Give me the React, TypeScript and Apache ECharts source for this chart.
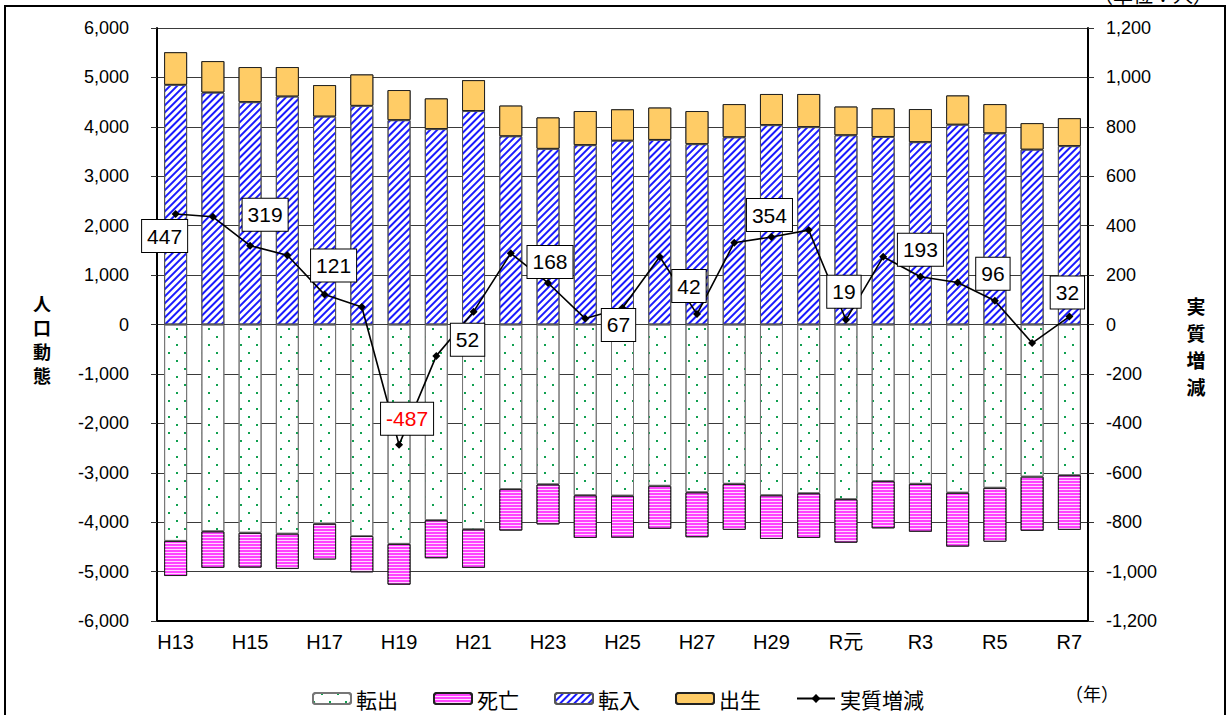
import React, { useEffect, useRef } from "react";
import * as echarts from "echarts";

const categories = [
  "H13", "H14", "H15", "H16", "H17", "H18", "H19", "H20", "H21", "H22",
  "H23", "H24", "H25", "H26", "H27", "H28", "H29", "H30", "R元", "R2",
  "R3", "R4", "R5", "R6", "R7",
];
// 転出 (out-migration, negative)
const tenshutsu = [
  -4380, -4185, -4215, -4235, -4030, -4280, -4440, -3960, -4145, -3330,
  -3235, -3455, -3465, -3265, -3395, -3225, -3455, -3415, -3535, -3170,
  -3225, -3405, -3305, -3080, -3050,
];
// 死亡 (deaths, negative)
const shibou = [
  -710, -740, -705, -710, -725, -735, -825, -770, -780, -840,
  -810, -865, -850, -870, -910, -930, -885, -905, -880, -955,
  -970, -1090, -1090, -1095, -1105,
];
// 転入 (in-migration)
const tennyu = [
  4850, 4695, 4500, 4615, 4210, 4425, 4135, 3955, 4320, 3810,
  3555, 3630, 3720, 3735, 3650, 3790, 4035, 3995, 3830, 3795,
  3690, 4045, 3870, 3540, 3610,
];
// 出生 (births)
const shussei = [
  660, 635, 710, 595, 635, 635, 610, 620, 625, 620,
  635, 690, 635, 655, 670, 670, 630, 670, 580, 580,
  670, 590, 590, 535, 565,
];
// 実質増減 (net change)
const jisshitsu = [
  447, 436, 319, 280, 121, 71, -487, -127, 52, 288,
  168, 24, 67, 274, 42, 331, 354, 382, 19, 274,
  193, 170, 96, -75, 32,
];
const leftTicks = { min: -6000, max: 6000, interval: 1000 };
const rightTicks = { min: -1200, max: 1200, interval: 200 };

// label offsets (px) for the labelled points (every other year)
const labelOffsets: Record<number, [number, number]> = {
  0: [-11, 22],
  2: [15, -31],
  4: [9, -29],
  6: [8, -26],
  8: [-6, 28],
  10: [2, -21],
  12: [-4, 17],
  14: [-8, -28],
  16: [-2, -22],
  18: [-2, -28],
  20: [0, -27],
  22: [-2, -27],
  24: [-2, -24],
};

const fmt = (v: number) => v.toLocaleString("en-US");
const SANS = "'Liberation Sans', 'Noto Sans CJK JP', sans-serif";
const CJK = "'Noto Sans CJK JP', sans-serif";

export default function App() {
  const ref = useRef<HTMLDivElement>(null);
  useEffect(() => {
    if (!ref.current) return;
    const chart = echarts.init(ref.current, null, { renderer: "svg" });
    const lineData = jisshitsu.map((v, i) => {
      const off = labelOffsets[i];
      if (!off) return v;
      return {
        value: v,
        label: {
          show: true,
          offset: off,
          color: v < 0 ? "#ff0000" : "#000",
        },
      };
    });
    chart.setOption({
      animation: false,
      aria: { enabled: true, decal: { show: true } },
      grid: { left: 157, right: 141, top: 28, bottom: 94, containLabel: false },
      legend: {
        left: 307,
        top: 683,
        itemWidth: 38,
        itemHeight: 11,
        itemGap: 35,
        textStyle: { fontSize: 21, fontFamily: CJK, color: "#000" },
        data: ["転出", "死亡", "転入", "出生", "実質増減"],
      },
      xAxis: {
        type: "category",
        data: categories,
        axisLine: { onZero: false, lineStyle: { color: "#000", width: 2 } },
        axisTick: { show: false },
        axisLabel: {
          interval: 1,
          fontSize: 20,
          fontFamily: SANS,
          color: "#000",
          margin: 11,
        },
      },
      yAxis: [
        {
          type: "value",
          ...leftTicks,
          axisLine: { show: true, lineStyle: { color: "#000", width: 2 } },
          axisTick: { show: true, length: 6, lineStyle: { color: "#333" } },
          splitLine: { show: true, lineStyle: { color: "#3a3a3a", width: 1.2 } },
          axisLabel: {
            fontSize: 18,
            fontFamily: SANS,
            color: "#000",
            margin: 28,
            formatter: (v: number) => fmt(v),
          },
        },
        {
          type: "value",
          ...rightTicks,
          position: "right",
          axisLine: { show: true, lineStyle: { color: "#000", width: 2 } },
          axisTick: { show: true, length: 6, lineStyle: { color: "#333" } },
          splitLine: { show: false },
          axisLabel: {
            fontSize: 18,
            fontFamily: SANS,
            color: "#000",
            margin: 18,
            formatter: (v: number) => fmt(v),
          },
        },
      ],
      series: [
        {
          name: "転出",
          type: "bar",
          stack: "all",
          barWidth: 23,
          data: tenshutsu,
          itemStyle: {
            color: "#ffffff",
            borderColor: "#777",
            borderWidth: 1,
            decal: {
              symbol: "rect",
              symbolSize: 1,
              color: "#10a050",
              backgroundColor: "#ffffff",
              dashArrayX: [[2, 14], [0, 8, 2, 6]],
              dashArrayY: [2, 6],
              rotation: 0,
            },
          },
        },
        {
          name: "死亡",
          type: "bar",
          stack: "all",
          barWidth: 23,
          data: shibou,
          itemStyle: {
            color: "#ff44ff",
            borderColor: "#222",
            borderWidth: 1,
            decal: {
              symbol: "rect",
              symbolSize: 1,
              symbolKeepAspect: false,
              color: "#ffd8ff",
              backgroundColor: "#ff44ff",
              dashArrayX: [1, 0],
              dashArrayY: [1, 2],
              rotation: 0,
            },
          },
        },
        {
          name: "転入",
          type: "bar",
          stack: "all",
          barWidth: 23,
          data: tennyu,
          itemStyle: {
            color: "#ffffff",
            borderColor: "#555",
            borderWidth: 1,
            decal: {
              symbol: "rect",
              symbolSize: 1,
              symbolKeepAspect: false,
              color: "#1a1aff",
              backgroundColor: "#ffffff",
              dashArrayX: [1, 0],
              dashArrayY: [2, 3],
              rotation: -Math.PI / 4,
            },
          },
        },
        {
          name: "出生",
          type: "bar",
          stack: "all",
          barWidth: 23,
          data: shussei,
          itemStyle: {
            color: "#ffcc66",
            borderColor: "#222",
            borderWidth: 1,
            decal: {
              symbol: "rect",
              symbolSize: 1,
              color: "#ffcc66",
              backgroundColor: "#ffcc66",
              dashArrayX: [1, 0],
              dashArrayY: [4, 0],
              rotation: 0,
            },
          },
        },
        {
          name: "実質増減",
          type: "line",
          yAxisIndex: 1,
          data: lineData,
          symbol: "diamond",
          symbolSize: 8,
          itemStyle: { color: "#000" },
          lineStyle: { color: "#000", width: 1.6 },
          z: 5,
          label: {
            show: false,
            position: "inside",
            align: "center",
            verticalAlign: "middle",
            fontSize: 21,
            fontFamily: SANS,
            backgroundColor: "#fff",
            borderColor: "#000",
            borderWidth: 1,
            padding: [5, 5, 3, 5],
            lineHeight: 24,
            formatter: (p: any) => String(p.value),
          },
        },
      ],
      graphic: [
        {
          type: "rect",
          shape: { x: 5, y: 6, width: 1220, height: 730 },
          style: { fill: "none", stroke: "#000", lineWidth: 2 },
          silent: true,
        },
        {
          type: "text",
          x: 42,
          y: 339,
          style: {
            text: "人\n口\n動\n態",
            fontSize: 18,
            fontWeight: "bold",
            fontFamily: CJK,
            lineHeight: 24,
            fill: "#000",
            align: "center",
            verticalAlign: "middle",
          },
        },
        {
          type: "text",
          x: 1196,
          y: 346,
          style: {
            text: "実\n質\n増\n減",
            fontSize: 19,
            fontWeight: "bold",
            fontFamily: CJK,
            lineHeight: 27,
            fill: "#000",
            align: "center",
            verticalAlign: "middle",
          },
        },
        {
          type: "text",
          x: 1092,
          y: 693,
          style: {
            text: "（年）",
            fontSize: 18,
            fontFamily: CJK,
            fill: "#000",
            align: "center",
            verticalAlign: "middle",
          },
        },
        {
          type: "text",
          x: 1153,
          y: -6,
          style: {
            text: "（単位：人）",
            fontSize: 20,
            fontFamily: CJK,
            fill: "#000",
            align: "center",
            verticalAlign: "middle",
          },
        },
      ],
    });
    return () => chart.dispose();
  }, []);
  return (
    <div
      ref={ref}
      style={{ position: "absolute", left: 0, top: 0, width: 1229, height: 715, background: "#fff" }}
    />
  );
}
